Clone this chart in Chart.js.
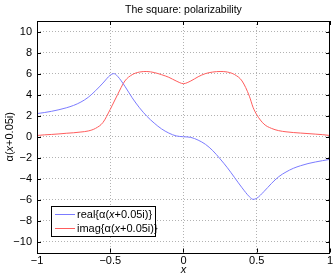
<!DOCTYPE html>
<html lang="en">

<head>
    <meta charset="UTF-8">
    <script src="https://cdn.jsdelivr.net/npm/chart.js@4.4.0/dist/chart.umd.min.js"></script>
    <title>The square: polarizability</title>
    <style>
        body { margin: 0; background: #fff; }
    </style>
</head>

<body>
    <canvas id="myChart" width="335" height="278"></canvas>
    <script>
        // values
        const xs = [-1, -0.95, -0.9, -0.85, -0.8, -0.75, -0.7, -0.65, -0.6, -0.55, -0.5, -0.475, -0.45, -0.4, -0.35, -0.3, -0.25, -0.2, -0.15, -0.1, -0.05,
            0, 0.05, 0.1, 0.15, 0.2, 0.25, 0.3, 0.35, 0.4, 0.45, 0.475, 0.5, 0.55, 0.6, 0.65, 0.7, 0.75, 0.8, 0.85, 0.9, 0.95, 1];
        const realVals = [2.2, 2.3, 2.42, 2.57, 2.75, 2.98, 3.3, 3.75, 4.38, 5.1, 5.85, 6.0, 5.75, 4.8, 3.7, 2.75, 1.95, 1.3, 0.75, 0.35, 0.08,
            0, -0.06, -0.32, -0.72, -1.32, -2.1, -2.95, -3.9, -4.85, -5.7, -5.95, -5.85, -5.2, -4.45, -3.8, -3.35, -3.0, -2.75, -2.55, -2.4, -2.27, -2.15];
        const imagVals = [0.12, 0.18, 0.22, 0.27, 0.33, 0.38, 0.45, 0.55, 0.8, 1.35, 2.6, 3.3, 4.0, 5.3, 5.9, 6.15, 6.2, 6.1, 5.9, 5.65, 5.3,
            5.05, 5.3, 5.7, 6.0, 6.15, 6.2, 6.15, 5.9, 5.3, 3.85, 2.8, 2.1, 1.2, 0.8, 0.58, 0.47, 0.4, 0.35, 0.3, 0.25, 0.2, 0.12];
        const xTicks = [-1, -0.5, 0, 0.5, 1];
        const yTicks = [-10, -8, -6, -4, -2, 0, 2, 4, 6, 8, 10];
        const seriesNames = ['real', 'imag'];
        const seriesColors = ['#7b7bff', '#ff5c5c'];
        const chartTitle = 'The square: polarizability';

        const FONT = '"Liberation Sans", Arial, sans-serif';
        const minus = v => String(v).replace('-', '\u2212');

        // draw mixed normal / italic text pieces starting at x
        function drawParts(ctx, parts, x, y) {
            parts.forEach(([txt, italic]) => {
                ctx.font = (italic ? 'italic ' : '') + '11px ' + FONT;
                ctx.fillText(txt, x, y);
                x += ctx.measureText(txt).width;
            });
            return x;
        }

        const matlabBits = {
            id: 'matlabBits',
            afterDraw(chart) {
                const ctx = chart.ctx;
                const a = chart.chartArea;
                const sx = chart.scales.x, sy = chart.scales.y;
                ctx.save();
                // box
                ctx.strokeStyle = '#000';
                ctx.lineWidth = 1;
                ctx.strokeRect(Math.round(a.left) + 0.5, Math.round(a.top) + 0.5,
                    Math.round(a.right - a.left) - 1, Math.round(a.bottom - a.top));
                // inward ticks
                ctx.beginPath();
                xTicks.forEach(v => {
                    const p = Math.round(sx.getPixelForValue(v)) + 0.5;
                    ctx.moveTo(p, a.bottom); ctx.lineTo(p, a.bottom - 4);
                    ctx.moveTo(p, a.top); ctx.lineTo(p, a.top + 4);
                });
                yTicks.forEach(v => {
                    const p = Math.round(sy.getPixelForValue(v)) + 0.5;
                    ctx.moveTo(a.left, p); ctx.lineTo(a.left + 4, p);
                    ctx.moveTo(a.right, p); ctx.lineTo(a.right - 4, p);
                });
                ctx.stroke();

                ctx.fillStyle = '#000';
                ctx.textBaseline = 'middle';
                // title, centred over the axes
                ctx.font = '10.5px ' + FONT;
                ctx.textAlign = 'center';
                ctx.fillText(chartTitle, (a.left + a.right) / 2, 10.5);
                // x axis label
                ctx.font = 'italic 11px ' + FONT;
                ctx.fillText('x', (a.left + a.right) / 2, 270);
                // y axis label
                ctx.save();
                ctx.translate(10, (a.top + a.bottom) / 2);
                ctx.rotate(-Math.PI / 2);
                ctx.textAlign = 'left';
                const yParts = [['\u03b1(', false], ['x', true], ['+0.05i)', false]];
                let w = 0;
                yParts.forEach(([t, it]) => { ctx.font = (it ? 'italic ' : '') + '11px ' + FONT; w += ctx.measureText(t).width; });
                drawParts(ctx, yParts, -w / 2, 0);
                ctx.restore();

                // legend
                const lx = 51, ly = 206, lw = 104, lh = 30;
                ctx.fillStyle = '#fff';
                ctx.fillRect(lx, ly, lw, lh);
                ctx.strokeStyle = '#000';
                ctx.strokeRect(lx + 0.5, ly + 0.5, lw, lh);
                seriesNames.forEach((name, i) => {
                    const yy = ly + 8.5 + i * 14;
                    ctx.strokeStyle = seriesColors[i];
                    ctx.beginPath();
                    ctx.moveTo(55, yy); ctx.lineTo(75, yy);
                    ctx.stroke();
                    ctx.fillStyle = '#000';
                    ctx.textAlign = 'left';
                    drawParts(ctx, [[name + '{\u03b1(', false], ['x', true], ['+0.05i)}', false]], 77, yy);
                });
                ctx.restore();
            }
        };

        const ctx = document.getElementById('myChart').getContext('2d');
        const myChart = new Chart(ctx, {
            type: 'line',
            data: {
                datasets: seriesNames.map((name, i) => ({
                    label: name,
                    data: xs.map((x, j) => ({ x: x, y: (i === 0 ? realVals : imagVals)[j] })),
                    borderColor: seriesColors[i],
                    borderWidth: 1,
                    pointRadius: 0,
                    fill: false,
                    cubicInterpolationMode: 'monotone'
                }))
            },
            options: {
                responsive: false,
                animation: false,
                devicePixelRatio: 1,
                layout: { padding: { left: 0, right: 5, top: 21, bottom: 0 } },
                plugins: {
                    legend: { display: false },
                    tooltip: { enabled: false },
                    title: { display: false }
                },
                scales: {
                    x: {
                        type: 'linear',
                        min: -1,
                        max: 1,
                        afterBuildTicks: s => { s.ticks = xTicks.map(v => ({ value: v })); },
                        afterFit: s => { s.height = 25.5; },
                        ticks: {
                            color: '#000',
                            padding: 2,
                            maxRotation: 0,
                            font: { family: FONT, size: 11 },
                            callback: v => minus(v)
                        },
                        grid: { color: 'rgba(0,0,0,0.3)', drawTicks: false },
                        border: { display: false, dash: [1, 2] }
                    },
                    y: {
                        min: -11,
                        max: 11,
                        afterBuildTicks: s => { s.ticks = yTicks.map(v => ({ value: v })); },
                        afterFit: s => { s.width = 37; },
                        ticks: {
                            color: '#000',
                            padding: 5,
                            font: { family: FONT, size: 11 },
                            callback: v => minus(v)
                        },
                        grid: { color: 'rgba(0,0,0,0.3)', drawTicks: false },
                        border: { display: false, dash: [1, 2] }
                    }
                }
            },
            plugins: [matlabBits]
        });
    </script>
</body>

</html>
